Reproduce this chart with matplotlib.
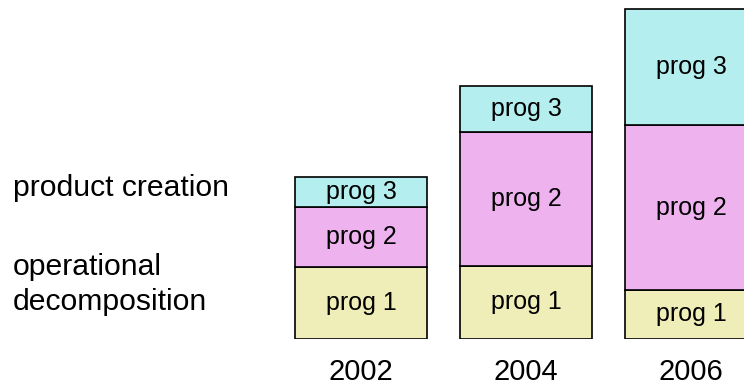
import matplotlib
matplotlib.use('Agg')
import matplotlib.pyplot as plt
import numpy as np

# data (arbitrary units)
years = ['2002', '2004', '2006']
prog1 = [72, 73, 49]
prog2 = [60, 134, 165]
prog3 = [30, 46, 116]
seg_names = ['prog 1', 'prog 2', 'prog 3']
seg_colors = ['#efeeb9', '#eeb3ee', '#b4eeee']
side_labels = ['product creation', 'operational', 'decomposition']

plt.rcParams['font.family'] = ['Liberation Sans', 'DejaVu Sans']

fig = plt.figure(figsize=(7.44, 3.85), dpi=100)
ax = fig.add_axes([0, 46 / 385, 1, 339 / 385])
x = np.arange(len(years))

bottom = np.zeros(len(years))
for name, vals, col in zip(seg_names, [prog1, prog2, prog3], seg_colors):
    vals = np.array(vals)
    ax.bar(x, vals, width=0.8, bottom=bottom, color=col,
           edgecolor='black', linewidth=1.2)
    for xi, b, v in zip(x, bottom, vals):
        ax.text(xi, b + v / 2, name, ha='center', va='center', fontsize=18)
    bottom = bottom + vals

ax.set_xlim(-361 / 165, (744 - 361) / 165)
ax.set_ylim(0, 339)
ax.set_xticks([])
ax.set_yticks([])
for s in ax.spines.values():
    s.set_visible(False)

# year labels under the bars
for xi, yr in zip(x, years):
    ax.text(xi, -30, yr, ha='center', va='center_baseline', fontsize=21,
            clip_on=False)

# labels on the left
for lab, ypix in zip(side_labels, [196, 275, 310]):
    fig.text(13 / 744, 1 - ypix / 385, lab, fontsize=21.7, va='baseline')

fig.savefig('out.png', dpi=100)
